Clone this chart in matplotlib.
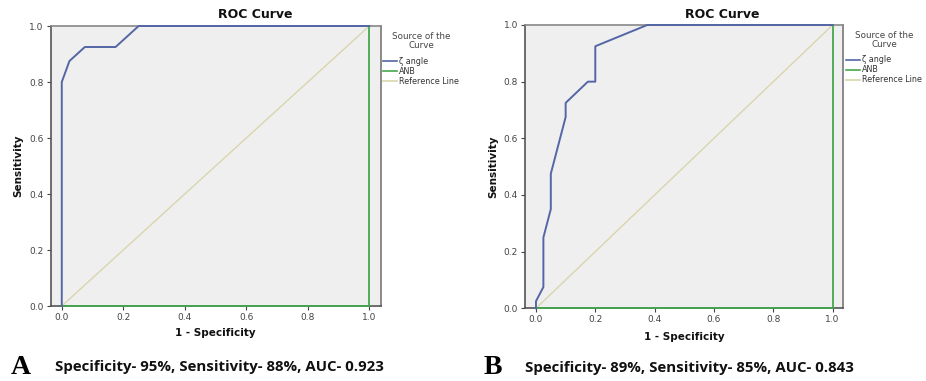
import numpy as np
import matplotlib
matplotlib.use('Agg')
import matplotlib.pyplot as plt

# ROC data
fpr_a = [0.0, 0.0, 0.025, 0.075, 0.175, 0.25, 1.0]
tpr_a = [0.0, 0.8, 0.875, 0.925, 0.925, 1.0, 1.0]

fpr_b = [0.0, 0.0, 0.025, 0.025, 0.05, 0.05, 0.1, 0.1, 0.175, 0.2, 0.2, 0.375, 1.0]
tpr_b = [0.0, 0.025, 0.075, 0.25, 0.35, 0.475, 0.675, 0.725, 0.8, 0.8, 0.925, 1.0, 1.0]

anb_x = [0.0, 1.0, 1.0]
anb_y = [0.0, 0.0, 1.0]
ref_x = [0.0, 1.0]
ref_y = [0.0, 1.0]

ticks = [0.0, 0.2, 0.4, 0.6, 0.8, 1.0]
tick_labels = ['0.0', '0.2', '0.4', '0.6', '0.8', '1.0']
legend_names = ['\u03b6 angle', 'ANB', 'Reference Line']
captions = ['Specificity- 95%, Sensitivity- 88%, AUC- 0.923',
            'Specificity- 89%, Sensitivity- 85%, AUC- 0.843']
letters = ['A', 'B']

blue = '#5466a6'
green = '#45a84c'
beige = '#d9d6ad'

W, H = 926, 381
fig = plt.figure(figsize=(W / 100, H / 100), dpi=100)
fig.patch.set_facecolor('white')


def px(x, y):
    return x / W, 1 - y / H


def roc_panel(box, xl, fpr, tpr, title_x, ylab_x, xlab_y, leg, cap):
    l, r, t, b = box
    ax = fig.add_axes([l / W, 1 - b / H, (r - l) / W, (b - t) / H])
    ax.set_facecolor('#efefef')
    ax.plot(ref_x, ref_y, color=beige, lw=1.0, zorder=2)
    ax.plot(anb_x, anb_y, color=green, lw=1.3, zorder=3, clip_on=False)
    ax.plot(fpr, tpr, color=blue, lw=1.4, zorder=4, clip_on=False)
    ax.set_xlim(xl)
    ax.set_ylim(0, 1)
    ax.set_xticks(ticks)
    ax.set_xticklabels(tick_labels)
    ax.set_yticks(ticks)
    ax.set_yticklabels(tick_labels)
    ax.tick_params(labelsize=6.5, length=3, width=0.8, colors='#444444', pad=2)
    for s in ax.spines.values():
        s.set_color('#555555')
        s.set_linewidth(1.2)
    ax.spines['top'].set_color('#888888')
    ax.spines['right'].set_color('#777777')

    fig.text(*px(title_x, 15), 'ROC Curve', fontsize=9, fontweight='bold',
             ha='center', va='center', color='#111111')
    fig.text(*px(ylab_x, (t + b) / 2), 'Sensitivity', fontsize=7.5, fontweight='bold',
             rotation=90, ha='center', va='center', color='#111111')
    fig.text(*px((l + r) / 2, xlab_y), '1 - Specificity', fontsize=7.5, fontweight='bold',
             ha='center', va='center', color='#111111')

    # legend
    lx, ly = leg
    fig.text(*px(lx, ly), 'Source of the\nCurve', fontsize=6.3, ha='center',
             va='center', color='#444444', linespacing=0.95)
    cols = [blue, green, beige]
    for i, name in enumerate(legend_names):
        yy = ly + 20 + i * 10
        fig.add_artist(plt.Line2D([(lx - 38) / W, (lx - 24) / W], [1 - yy / H] * 2,
                                  color=cols[i], lw=1.2))
        fig.text(*px(lx - 22, yy), name, fontsize=5.8, ha='left', va='center',
                 color='#333333')

    letter, lx2, tx, ty, text = cap
    fig.text(*px(lx2, ty), letter, fontsize=20, fontweight='bold',
             family='Liberation Serif', ha='left', va='center')
    fig.text(*px(tx, ty), text, fontsize=10.8, fontweight='bold',
             family='Open Sans', ha='left', va='center', color='#111111')
    return ax


roc_panel((50.7, 380.7, 26, 306), (-0.036, 1.037), fpr_a, tpr_a,
          255, 18, 333, (421, 41),
          (letters[0], 11, 55, 367, captions[0]))
roc_panel((525, 843.3, 25, 308.3), (-0.037, 1.036), fpr_b, tpr_b,
          722, 493, 337, (884, 40),
          (letters[1], 484, 525, 368, captions[1]))

fig.savefig('out.png', dpi=100, facecolor='white')
